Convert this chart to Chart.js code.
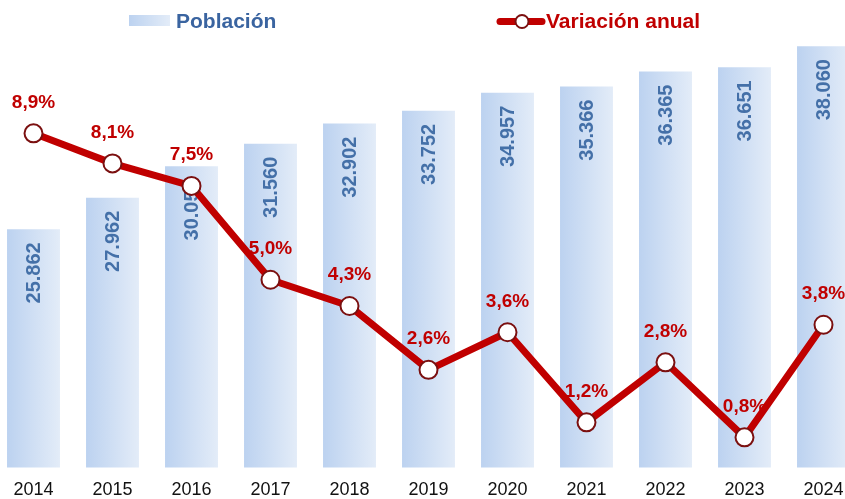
<!DOCTYPE html>
<html>
<head>
<meta charset="utf-8">
<script src="https://cdn.jsdelivr.net/npm/chart.js@4/dist/chart.umd.min.js"></script>
<style>
  html, body { margin: 0; padding: 0; background: #fff; overflow: hidden; width: 845px; height: 499px; }
  #wrap { position: absolute; left: -17px; top: 0; width: 891px; height: 513px; }
</style>
</head>
<body>
<div id="wrap"><canvas id="c"></canvas></div>
<script>
const years = ['2014','2015','2016','2017','2018','2019','2020','2021','2022','2023','2024'];
const poblacion = [25862, 27962, 30057, 31560, 32902, 33752, 34957, 35366, 36365, 36651, 38060];
const variacion = [8.9, 8.1, 7.5, 5.0, 4.3, 2.6, 3.6, 1.2, 2.8, 0.8, 3.8];
const seriesNames = ['Población', 'Variación anual'];

const FONT = "'Liberation Sans', Arial, sans-serif";
const BAR_PCT = 0.67;
const RED = '#c00000';
const BLUE_TXT = '#4470a8';
const BLUE_LEG = '#3a64a0';
const SHIFT = 17; // canvas is shifted left by this many px

function fmtThousands(v) {
  return String(v).replace(/\B(?=(\d{3})+(?!\d))/g, '.');
}
function fmtPct(v) {
  return v.toFixed(1).replace('.', ',') + '%';
}

function barGradient(ctx, x0, x1) {
  const g = ctx.createLinearGradient(x0, 0, x1, 0);
  g.addColorStop(0, '#bcd2f0');
  g.addColorStop(1, '#e3ecf8');
  return g;
}

const labelPlugin = {
  id: 'labelPlugin',
  afterDatasetDraw(chart, args) {
    if (args.index !== 0) return;
    const ctx = chart.ctx;
    const meta = chart.getDatasetMeta(0);
    ctx.save();
    ctx.font = 'bold 20px ' + FONT;
    ctx.fillStyle = BLUE_TXT;
    ctx.textAlign = 'right';
    ctx.textBaseline = 'middle';
    meta.data.forEach((bar, i) => {
      ctx.save();
      ctx.translate(bar.x + 1, bar.y + 13);
      ctx.rotate(-Math.PI / 2);
      ctx.fillText(fmtThousands(poblacion[i]), 0, 0);
      ctx.restore();
    });
    ctx.restore();
  },
  afterDatasetsDraw(chart) {
    const ctx = chart.ctx;
    const meta = chart.getDatasetMeta(1);
    ctx.save();
    ctx.font = 'bold 19px ' + FONT;
    ctx.fillStyle = RED;
    ctx.textAlign = 'center';
    ctx.textBaseline = 'middle';
    meta.data.forEach((pt, i) => {
      ctx.fillText(fmtPct(variacion[i]), pt.x, pt.y - 31);
    });
    ctx.restore();

    // legend
    ctx.save();
    const off = SHIFT;
    ctx.fillStyle = barGradient(ctx, 129 + off, 170 + off);
    ctx.fillRect(129 + off, 15, 41, 11);
    ctx.font = 'bold 21px ' + FONT;
    ctx.textBaseline = 'alphabetic';
    ctx.textAlign = 'left';
    ctx.fillStyle = BLUE_LEG;
    ctx.fillText(seriesNames[0], 176 + off, 28);

    ctx.strokeStyle = RED;
    ctx.lineWidth = 7;
    ctx.lineCap = 'round';
    ctx.beginPath();
    ctx.moveTo(500 + off, 21.5);
    ctx.lineTo(542 + off, 21.5);
    ctx.stroke();
    ctx.beginPath();
    ctx.arc(522 + off, 21.5, 6.5, 0, Math.PI * 2);
    ctx.fillStyle = '#fff';
    ctx.fill();
    ctx.lineWidth = 2;
    ctx.strokeStyle = '#7b1010';
    ctx.stroke();
    ctx.fillStyle = RED;
    ctx.fillText(seriesNames[1], 546 + off, 28);
    ctx.restore();
  }
};

new Chart(document.getElementById('c'), {
  data: {
    labels: years,
    datasets: [
      {
        type: 'bar',
        label: seriesNames[0],
        data: poblacion,
        yAxisID: 'y',
        order: 2,
        categoryPercentage: 1,
        barPercentage: BAR_PCT,
        borderWidth: 0,
        backgroundColor: (c) => {
          const chart = c.chart;
          const xs = chart.scales && chart.scales.x;
          if (!xs || c.type !== 'data' || !xs.width) return '#cfdff4';
          const cx = xs.getPixelForValue(c.dataIndex);
          const w = xs.width / years.length * BAR_PCT;
          return barGradient(chart.ctx, cx - w / 2, cx + w / 2);
        }
      },
      {
        type: 'line',
        label: seriesNames[1],
        data: variacion,
        yAxisID: 'y2',
        order: 1,
        borderColor: RED,
        borderWidth: 7,
        tension: 0,
        pointRadius: 9,
        pointBorderWidth: 2,
        pointBackgroundColor: '#ffffff',
        pointBorderColor: '#7b1010',
        borderJoinStyle: 'round',
        borderCapStyle: 'round'
      }
    ]
  },
  plugins: [labelPlugin],
  options: {
    responsive: true,
    maintainAspectRatio: false,
    animation: false,
    layout: { padding: { top: 17, bottom: 0, left: 0, right: 0 } },
    plugins: {
      legend: { display: false },
      tooltip: { enabled: false },
      title: { display: false }
    },
    scales: {
      x: {
        offset: true,
        grid: { display: false, drawTicks: false },
        border: { display: false },
        ticks: {
          color: '#111',
          font: { family: FONT, size: 18, lineHeight: 1.2 },
          padding: 12,
          maxRotation: 0,
          autoSkip: false
        }
      },
      y: { display: false, min: 10000, max: 40000 },
      y2: { display: false, min: 0, max: 12, position: 'right', grid: { display: false } }
    }
  }
});
</script>
</body>
</html>
